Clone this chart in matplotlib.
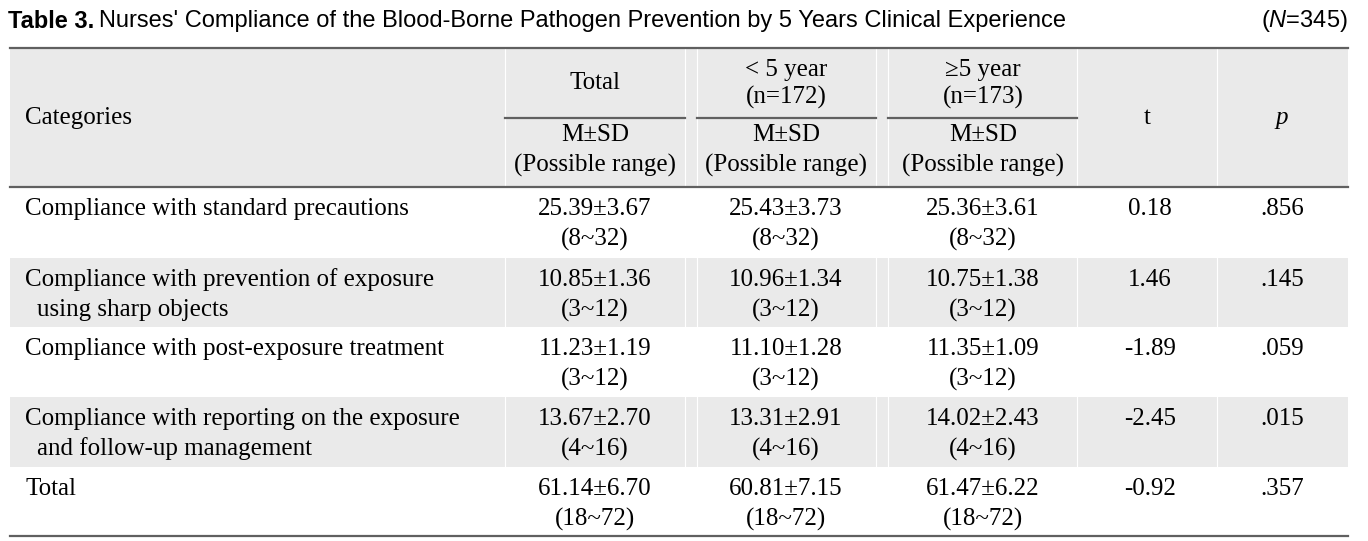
import matplotlib.pyplot as plt

plt.rcParams['mathtext.fontset'] = 'custom'
plt.rcParams['mathtext.rm'] = 'Liberation Sans'
plt.rcParams['mathtext.it'] = 'Liberation Sans:italic'

# table content
categories = [
    ["Compliance with standard precautions"],
    ["Compliance with prevention of exposure", "using sharp objects"],
    ["Compliance with post-exposure treatment"],
    ["Compliance with reporting on the exposure", "and follow-up management"],
    ["Total"],
]
total_m = ["25.39", "10.85", "11.23", "13.67", "61.14"]
total_sd = ["3.67", "1.36", "1.19", "2.70", "6.70"]
lt5_m = ["25.43", "10.96", "11.10", "13.31", "60.81"]
lt5_sd = ["3.73", "1.34", "1.28", "2.91", "7.15"]
ge5_m = ["25.36", "10.75", "11.35", "14.02", "61.47"]
ge5_sd = ["3.61", "1.38", "1.09", "2.43", "6.22"]
ranges = ["(8~32)", "(3~12)", "(3~12)", "(4~16)", "(18~72)"]
t_vals = ["0.18", "1.46", "-1.89", "-2.45", "-0.92"]
p_vals = [".856", ".145", ".059", ".015", ".357"]

W, H = 1368, 541
fig = plt.figure(figsize=(W / 100, H / 100), dpi=100)
ax = fig.add_axes([0, 0, 1, 1])
ax.set_xlim(0, W)
ax.set_ylim(H, 0)
ax.axis('off')

serif = 'Liberation Serif'
fs = 18
tfs = 17
gray = '#eaeaea'
rule = '#606060'
left, right = 10, 1348

# title
r = fig.canvas.get_renderer()
t1 = ax.text(8, 21, "Table 3.", fontsize=tfs, fontweight='bold', family='Liberation Sans',
             va='center', ha='left')
bb = t1.get_window_extent(renderer=r)
ax.text(8 + bb.width + 5, 21,
        "Nurses' Compliance of the Blood-Borne Pathogen Prevention by 5 Years Clinical Experience",
        fontsize=tfs, family='Liberation Sans', va='center', ha='left')
ax.text(1348, 21, r'($\mathit{N}$=345)', fontsize=tfs, family='Liberation Sans',
        va='center', ha='right')

# row bands
row_edges = [187, 258, 327, 397, 467, 536]
ax.fill_between([left, right], 48, 187, color=gray, lw=0)
for i in range(5):
    if i % 2 == 1:
        ax.fill_between([left, right], row_edges[i], row_edges[i + 1], color=gray, lw=0)

# faint separators in gray areas
seps = [505, 685, 697, 876, 888, 1077, 1217]
for x in seps:
    ax.plot([x, x], [48, 187], color='white', lw=0.8)
    for i in (1, 3):
        ax.plot([x, x], [row_edges[i], row_edges[i + 1]], color='white', lw=0.8)

# rules
ax.plot([left, right], [48, 48], color=rule, lw=1.6)
ax.plot([left, right], [187, 187], color=rule, lw=1.6)
ax.plot([left, right], [536, 536], color=rule, lw=1.6)
for a, b in [(505, 685), (697, 876), (888, 1077)]:
    ax.plot([a, b], [118, 118], color=rule, lw=1.6)

# header
cx = [595, 786, 983, 1147, 1282]
kw = dict(fontsize=fs, family=serif, va='center')
ax.text(25, 118, "Categories", ha='left', **kw)
ax.text(cx[0], 83, "Total", ha='center', **kw)
ax.text(cx[1], 70, "< 5 year", ha='center', **kw)
ax.text(cx[1], 97, "(n=172)", ha='center', **kw)
ax.text(cx[2], 70, "\u22655 year", ha='center', **kw)
ax.text(cx[2], 97, "(n=173)", ha='center', **kw)
for c in cx[:3]:
    ax.text(c, 135, "M\u00b1SD", ha='center', **kw)
    ax.text(c, 165, "(Possible range)", ha='center', **kw)
ax.text(cx[3], 118, "t", ha='center', **kw)
ax.text(cx[4], 118, "p", ha='center', style='italic', **kw)

# body rows
for i in range(5):
    y1 = row_edges[i] + 22
    y2 = y1 + 30
    ax.text(25, y1, categories[i][0], ha='left', **kw)
    if len(categories[i]) > 1:
        ax.text(37, y2, categories[i][1], ha='left', **kw)
    for c, m, s in [(cx[0], total_m, total_sd), (cx[1], lt5_m, lt5_sd), (cx[2], ge5_m, ge5_sd)]:
        ax.text(c, y1, f"{m[i]}\u00b1{s[i]}", ha='center', **kw)
        ax.text(c, y2, ranges[i], ha='center', **kw)
    ax.text(cx[3] + 3, y1, t_vals[i], ha='center', **kw)
    ax.text(cx[4], y1, p_vals[i], ha='center', **kw)

fig.savefig("out.png", dpi=100)
